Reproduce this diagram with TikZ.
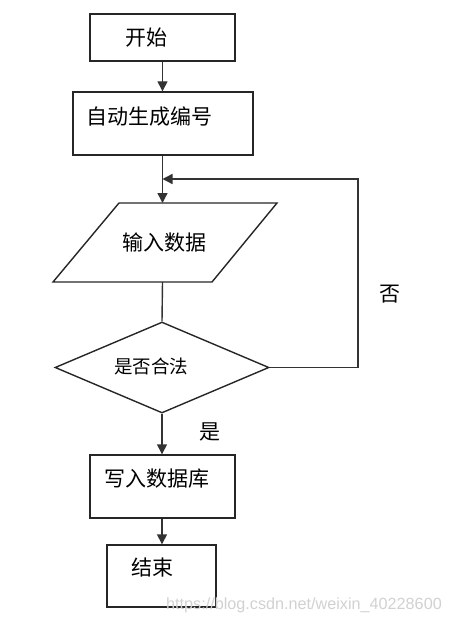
\documentclass[tikz,border=0pt]{standalone}
\usepackage{fontspec}
\newfontfamily\cjk{Noto Sans CJK SC}
\newfontfamily\wm{Liberation Sans}
\usetikzlibrary{arrows.meta,shapes.geometric}
\begin{document}
\begin{tikzpicture}[x=1pt,y=-1pt,
  box/.style={draw=black!85,line width=1.4pt,minimum width=#1,inner sep=0pt},
  lbl/.style={font=\cjk\fontsize{21}{21}\selectfont,inner sep=0pt},
  arr/.style={draw=black!80,line width=1.4pt,-{Triangle[length=10pt,width=10pt]}},
  ln/.style={draw=black!80,line width=1.4pt}]
\useasboundingbox (0,0) rectangle (449,623);
% shapes
\node[box=145pt,minimum height=47pt] (start) at (162.5,37.5) {};
\node[box=180pt,minimum height=63pt] (gen) at (163,123.5) {};
\draw[box=0pt] (119,203) coordinate (ptl) -- (277,203) coordinate (ptr)
   -- (212,282) coordinate (pbr) -- (53,282) coordinate (pbl) -- cycle;
\coordinate (ptop) at (162.5,203);
\coordinate (pbot) at (162.5,282);
\node[box=214pt,shape=diamond,minimum height=91pt] (dia) at (162,367.5) {};
\node[box=145pt,minimum height=63pt] (write) at (162.5,486.5) {};
\node[box=109pt,minimum height=62pt] (fin) at (161.5,576) {};
\coordinate (corner) at (358,179);
\coordinate (join) at (162.5,179);
% texts
\node[lbl] (t1) at (146,38) {开始};
\node[lbl] (t2) at (149.5,117) {自动生成编号};
\node[lbl] (t3) at (164,243) {输入数据};
\node[lbl,font=\cjk\fontsize{18.5}{18.5}\selectfont] (t4) at (151,366) {是否合法};
\node[lbl] (yes) at (210,432) {是};
\node[lbl] (no) at (390,294) {否};
\node[lbl] (t5) at (156.5,479) {写入数据库};
\node[lbl] (t6) at (152,568) {结束};
\node[font=\wm\fontsize{16.2}{16.2}\selectfont,text=black!18,inner sep=0pt] (wmk) at (304,605) {https://blog.csdn.net/weixin\_40228600};
% connectors
\draw[arr] (start.south) -- (start.south |- gen.north);
\draw[arr] (gen.south -| ptop) -- (ptop);
\draw[arr] (dia.east) -| (corner) -- (join);
\draw[ln] (pbot) -- (dia.north);
\draw[arr] (dia.south) -- (dia.south |- write.north);
\draw[arr] (write.south -| dia.south) -- (fin.north -| dia.south);
\end{tikzpicture}
\end{document}
